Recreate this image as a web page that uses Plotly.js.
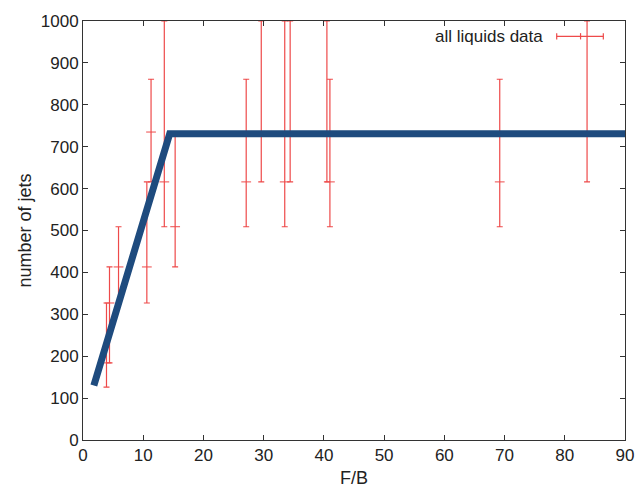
<!DOCTYPE html>
<html>
<head>
<meta charset="utf-8">
<script src="https://cdn.plot.ly/plotly-3.0.1.min.js"></script>
<style>
  html, body { margin: 0; padding: 0; background: #fff; }
  #chart { width: 644px; height: 488px; }
</style>
</head>
<body>
<div id="chart"></div>
<script>
// Measured data: F/B ratio vs number of jets (low / central / high)
const fbValues   = [3.9, 4.4, 5.9, 10.6, 11.3, 13.5, 15.3, 27.1, 29.6, 33.5, 34.4, 40.5, 41.0, 69.2, 83.7];
const jetsCenter = [184, 327, 413, 413, 735, 616, 509, 616, 735, 616, 735, 735, 616, 616, 735];
const jetsLow    = [126, 184, 327, 327, 616, 509, 413, 509, 616, 509, 616, 616, 509, 509, 616];
const jetsHigh   = [327, 413, 509, 616, 861, 1000, 735, 861, 1000, 1000, 1000, 1000, 861, 861, 1000];

// Fitted curve (rise then plateau)
const fitX = [1.8, 14.4, 90];
const fitY = [130, 731, 731];

const seriesName = 'all liquids data';
const xTitle = 'F/B';
const yTitle = 'number of jets';

const red = '#ee4a4a';
const navy = '#1e4b7e';
const font = 'Liberation Sans, Arial, sans-serif';

const errPlus = jetsHigh.map((h, i) => h - jetsCenter[i]);
const errMinus = jetsCenter.map((c, i) => c - jetsLow[i]);

const dataTrace = {
  type: 'scatter', mode: 'markers', name: seriesName,
  x: fbValues, y: jetsCenter,
  marker: { symbol: 'line-ew', size: 7, color: red, line: { color: red, width: 1 } },
  error_y: { type: 'data', symmetric: false, array: errPlus, arrayminus: errMinus,
             color: red, thickness: 1.2, width: 3 },
  showlegend: false, cliponaxis: true
};

const fitTrace = {
  type: 'scatter', mode: 'lines', x: fitX, y: fitY,
  line: { color: navy, width: 7 }, showlegend: false
};

const axisCommon = {
  showline: true, linecolor: '#333', linewidth: 1, mirror: 'allticks',
  ticks: 'inside', ticklen: 5, tickcolor: '#333', tickwidth: 1,
  showgrid: false, zeroline: false,
  tickfont: { family: font, size: 17, color: '#222' }
};

const layout = {
  width: 644, height: 488,
  margin: { l: 83, r: 19, t: 21, b: 48 },
  paper_bgcolor: '#fff', plot_bgcolor: '#fff',
  showlegend: false,
  xaxis: Object.assign({}, axisCommon, {
    range: [0, 90], dtick: 10, tick0: 0,
    title: { text: xTitle, font: { family: font, size: 18, color: '#222' }, standoff: 9 }
  }),
  yaxis: Object.assign({}, axisCommon, {
    range: [0, 1000], dtick: 100, tick0: 0,
    title: { text: yTitle, font: { family: font, size: 18, color: '#222' }, standoff: 4 }
  }),
  annotations: [{
    xref: 'paper', yref: 'paper', x: 0.8525, y: 0.9635,
    xanchor: 'right', yanchor: 'middle', showarrow: false,
    text: seriesName, font: { family: font, size: 17, color: '#222' }
  }],
  shapes: [
    { type: 'line', xref: 'paper', yref: 'paper', x0: 0.874, x1: 0.960, y0: 0.9635, y1: 0.9635, line: { color: red, width: 1.2 } },
    { type: 'line', xref: 'paper', yref: 'paper', x0: 0.874, x1: 0.874, y0: 0.956, y1: 0.971, line: { color: red, width: 1.2 } },
    { type: 'line', xref: 'paper', yref: 'paper', x0: 0.918, x1: 0.918, y0: 0.956, y1: 0.971, line: { color: red, width: 1.2 } },
    { type: 'line', xref: 'paper', yref: 'paper', x0: 0.960, x1: 0.960, y0: 0.956, y1: 0.971, line: { color: red, width: 1.2 } }
  ]
};

Plotly.newPlot('chart', [dataTrace, fitTrace], layout, { displayModeBar: false, staticPlot: true });
</script>
</body>
</html>
